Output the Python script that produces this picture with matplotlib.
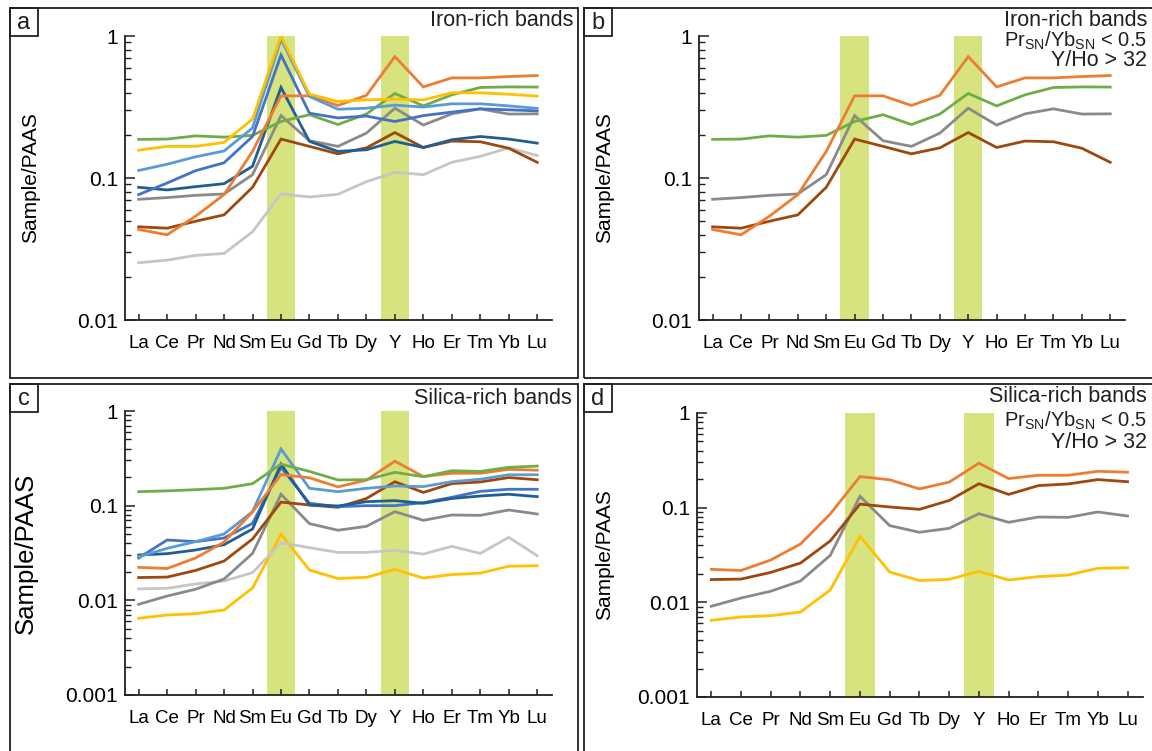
import matplotlib
matplotlib.use("Agg")
import matplotlib.pyplot as plt
from matplotlib.patches import Rectangle
from matplotlib.ticker import FixedLocator, LogLocator, NullFormatter

plt.rcParams['font.family'] = ['Liberation Sans', 'DejaVu Sans']
plt.rcParams['mathtext.default'] = 'regular'

elements = ['La', 'Ce', 'Pr', 'Nd', 'Sm', 'Eu', 'Gd', 'Tb', 'Dy', 'Y', 'Ho', 'Er', 'Tm', 'Yb', 'Lu']

# iron-rich bands (Sample/PAAS)
fe_orange = [0.0434, 0.0398, 0.0538, 0.0764, 0.154, 0.379, 0.379, 0.324, 0.382, 0.716, 0.438, 0.507, 0.507, 0.518, 0.527]
fe_yellow = [0.157, 0.167, 0.167, 0.178, 0.26, 1.0, 0.389, 0.346, 0.355, 0.359, 0.355, 0.398, 0.398, 0.389, 0.377]
fe_lightblue = [0.113, 0.125, 0.141, 0.155, 0.225, 0.948, 0.375, 0.305, 0.31, 0.326, 0.316, 0.333, 0.333, 0.322, 0.309]
fe_blue = [0.0764, 0.0922, 0.1126, 0.128, 0.196, 0.735, 0.286, 0.265, 0.273, 0.25, 0.275, 0.291, 0.307, 0.302, 0.297]
fe_darkblue = [0.086, 0.0824, 0.0869, 0.0912, 0.121, 0.434, 0.181, 0.154, 0.158, 0.181, 0.164, 0.186, 0.196, 0.188, 0.176]
fe_green = [0.187, 0.188, 0.198, 0.194, 0.1995, 0.25, 0.279, 0.238, 0.282, 0.394, 0.322, 0.385, 0.434, 0.438, 0.437]
fe_gray = [0.0708, 0.0728, 0.0755, 0.0772, 0.1055, 0.275, 0.183, 0.167, 0.207, 0.31, 0.236, 0.283, 0.307, 0.282, 0.283]
fe_brown = [0.0453, 0.0443, 0.0496, 0.055, 0.086, 0.188, 0.167, 0.148, 0.163, 0.209, 0.164, 0.182, 0.18, 0.162, 0.129]
fe_lightgray = [0.0253, 0.0264, 0.0285, 0.0294, 0.0418, 0.0772, 0.0735, 0.0768, 0.0942, 0.1096, 0.1055, 0.129, 0.142, 0.163, 0.144]

# silica-rich bands (Sample/PAAS)
si_green = [0.1406, 0.1433, 0.1476, 0.1525, 0.1707, 0.275, 0.23, 0.187, 0.188, 0.225, 0.202, 0.234, 0.23, 0.254, 0.262]
si_orange = [0.0223, 0.0217, 0.028, 0.0413, 0.0857, 0.213, 0.197, 0.158, 0.186, 0.295, 0.203, 0.22, 0.22, 0.242, 0.237]
si_lightblue = [0.0289, 0.0354, 0.0417, 0.0502, 0.0865, 0.397, 0.1525, 0.1406, 0.1525, 0.1614, 0.159, 0.1794, 0.19, 0.212, 0.212]
si_blue = [0.028, 0.0434, 0.0417, 0.0455, 0.065, 0.254, 0.106, 0.0976, 0.1, 0.1, 0.1076, 0.1225, 0.1417, 0.149, 0.149]
si_darkblue = [0.0301, 0.0311, 0.034, 0.0387, 0.0567, 0.275, 0.1017, 0.0992, 0.1102, 0.113, 0.106, 0.119, 0.1265, 0.132, 0.1245]
si_brown = [0.0174, 0.0176, 0.0207, 0.026, 0.0445, 0.109, 0.1017, 0.096, 0.119, 0.179, 0.138, 0.171, 0.178, 0.198, 0.188]
si_gray = [0.00908, 0.0111, 0.0131, 0.0168, 0.0313, 0.132, 0.0646, 0.055, 0.0605, 0.0864, 0.07, 0.0797, 0.079, 0.09, 0.0817]
si_lightgray = [0.0132, 0.0134, 0.0149, 0.016, 0.0196, 0.0406, 0.036, 0.0321, 0.0321, 0.0337, 0.0308, 0.0372, 0.0313, 0.0463, 0.0296]
si_yellow = [0.00646, 0.007, 0.00723, 0.0079, 0.0135, 0.0498, 0.0209, 0.017, 0.0175, 0.0212, 0.0172, 0.0187, 0.0194, 0.0229, 0.0232]

ORANGE = '#ED7D31'
YELLOW = '#FFC000'
LBLUE = '#5B9BD5'
BLUE = '#4472C4'
DBLUE = '#1F5F94'
GREEN = '#70AD47'
GRAY = '#8A8A8A'
BROWN = '#9E480E'
LGRAY = '#C6C6C6'
BAR = '#D7E37F'
INK = '#231F20'

W, H = 1152, 751
fig = plt.figure(figsize=(W / 100, H / 100), dpi=100)


def px_axes(x0, y0, x1, y1):
    # pixel box (top-left origin) -> figure axes
    return fig.add_axes([x0 / W, 1 - y1 / H, (x1 - x0) / W, (y1 - y0) / H])


def panel_frame(x0, y0, x1, y1, letter):
    fig.patches.append(Rectangle((x0 / W, 1 - y1 / H), (x1 - x0) / W, (y1 - y0) / H,
                                 transform=fig.transFigure, fill=False, lw=1.3, ec=INK))
    fig.patches.append(Rectangle((x0 / W, 1 - (y0 + 28) / H), 28 / W, 28 / H,
                                 transform=fig.transFigure, fill=False, lw=1.3, ec=INK))
    fig.text((x0 + 14) / W, 1 - (y0 + 15) / H, letter, ha='center', va='center',
             fontsize=17, color=INK)


def setup(ax, ymin, ylab_x, ylab_size):
    ax.axvspan(4.5, 5.5, color=BAR, lw=0, zorder=0)
    ax.axvspan(8.5, 9.5, color=BAR, lw=0, zorder=0)
    ax.set_yscale('log')
    ax.set_ylim(ymin, 1)
    ax.set_xlim(-0.48, 14.52)
    ax.set_xticks(range(len(elements)))
    ax.set_xticklabels(elements)
    majors = [10.0 ** k for k in range(0, -4, -1) if 10.0 ** k >= ymin * 0.999]
    ax.yaxis.set_major_locator(FixedLocator(majors))
    ax.set_yticklabels(['%g' % v for v in majors])
    ax.yaxis.set_minor_locator(LogLocator(base=10, subs=range(2, 10)))
    ax.yaxis.set_minor_formatter(NullFormatter())
    for s in ['top', 'right']:
        ax.spines[s].set_visible(False)
    for s in ['left', 'bottom']:
        ax.spines[s].set_linewidth(1.3)
        ax.spines[s].set_color(INK)
    ax.tick_params(axis='x', direction='in', length=4, width=1.1, color=INK,
                   labelsize=13.5, pad=11)
    ax.tick_params(axis='y', which='major', direction='in', length=7, width=1.1,
                   color=INK, labelsize=15, pad=5)
    ax.tick_params(axis='y', which='minor', direction='in', length=4, width=1.0, color=INK)
    ax.set_ylabel('Sample/PAAS', fontsize=ylab_size)
    ax.yaxis.set_label_coords(ylab_x, 0.5)
    ax.patch.set_alpha(0)


def draw(ax, series):
    x = range(len(elements))
    for vals, c in series:
        ax.plot(x, vals, color=c, lw=2.0, solid_joinstyle='miter', zorder=2)


# frames
panel_frame(10, 8, 578, 378, 'a')
panel_frame(584, 8, 1160, 378, 'b')
panel_frame(10, 384, 578, 770, 'c')
panel_frame(584, 384, 1160, 770, 'd')

TS = 15.5

# a
ax = px_axes(125, 36, 552, 320)
setup(ax, 0.01, -0.2, 15)
draw(ax, [(fe_lightgray, LGRAY), (fe_brown, BROWN), (fe_gray, GRAY), (fe_darkblue, DBLUE),
          (fe_green, GREEN), (fe_blue, BLUE), (fe_orange, ORANGE), (fe_lightblue, LBLUE),
          (fe_yellow, YELLOW)])
fig.text(573 / W, 1 - 20 / H, 'Iron-rich bands', ha='right', va='center', fontsize=TS, color=INK)

# b
ax = px_axes(699, 36, 1125, 320)
setup(ax, 0.01, -0.199, 15)
draw(ax, [(fe_brown, BROWN), (fe_gray, GRAY), (fe_green, GREEN), (fe_orange, ORANGE)])
fig.text(1147 / W, 1 - 20 / H, 'Iron-rich bands', ha='right', va='center', fontsize=TS, color=INK)
fig.text(1147 / W, 1 - 41 / H, r'Pr$_{SN}$/Yb$_{SN}$ < 0.5', ha='right', va='center', fontsize=14.5, color=INK)
fig.text(1147 / W, 1 - 61 / H, 'Y/Ho > 32', ha='right', va='center', fontsize=TS, color=INK)

# c
ax = px_axes(125, 411, 552, 695)
setup(ax, 0.001, -0.203, 18.5)
draw(ax, [(si_yellow, YELLOW), (si_lightgray, LGRAY), (si_gray, GRAY), (si_brown, BROWN),
          (si_blue, BLUE), (si_darkblue, DBLUE), (si_lightblue, LBLUE), (si_orange, ORANGE),
          (si_green, GREEN)])
fig.text(572 / W, 1 - 399 / H, 'Silica-rich bands', ha='right', va='center', fontsize=TS, color=INK)

# d
ax = px_axes(697, 413, 1143, 697)
setup(ax, 0.001, -0.186, 15)
draw(ax, [(si_yellow, YELLOW), (si_gray, GRAY), (si_brown, BROWN), (si_orange, ORANGE)])
fig.text(1147 / W, 1 - 397 / H, 'Silica-rich bands', ha='right', va='center', fontsize=TS, color=INK)
fig.text(1147 / W, 1 - 421 / H, r'Pr$_{SN}$/Yb$_{SN}$ < 0.5', ha='right', va='center', fontsize=14.5, color=INK)
fig.text(1147 / W, 1 - 443 / H, 'Y/Ho > 32', ha='right', va='center', fontsize=TS, color=INK)

fig.savefig('out.png', dpi=100)
